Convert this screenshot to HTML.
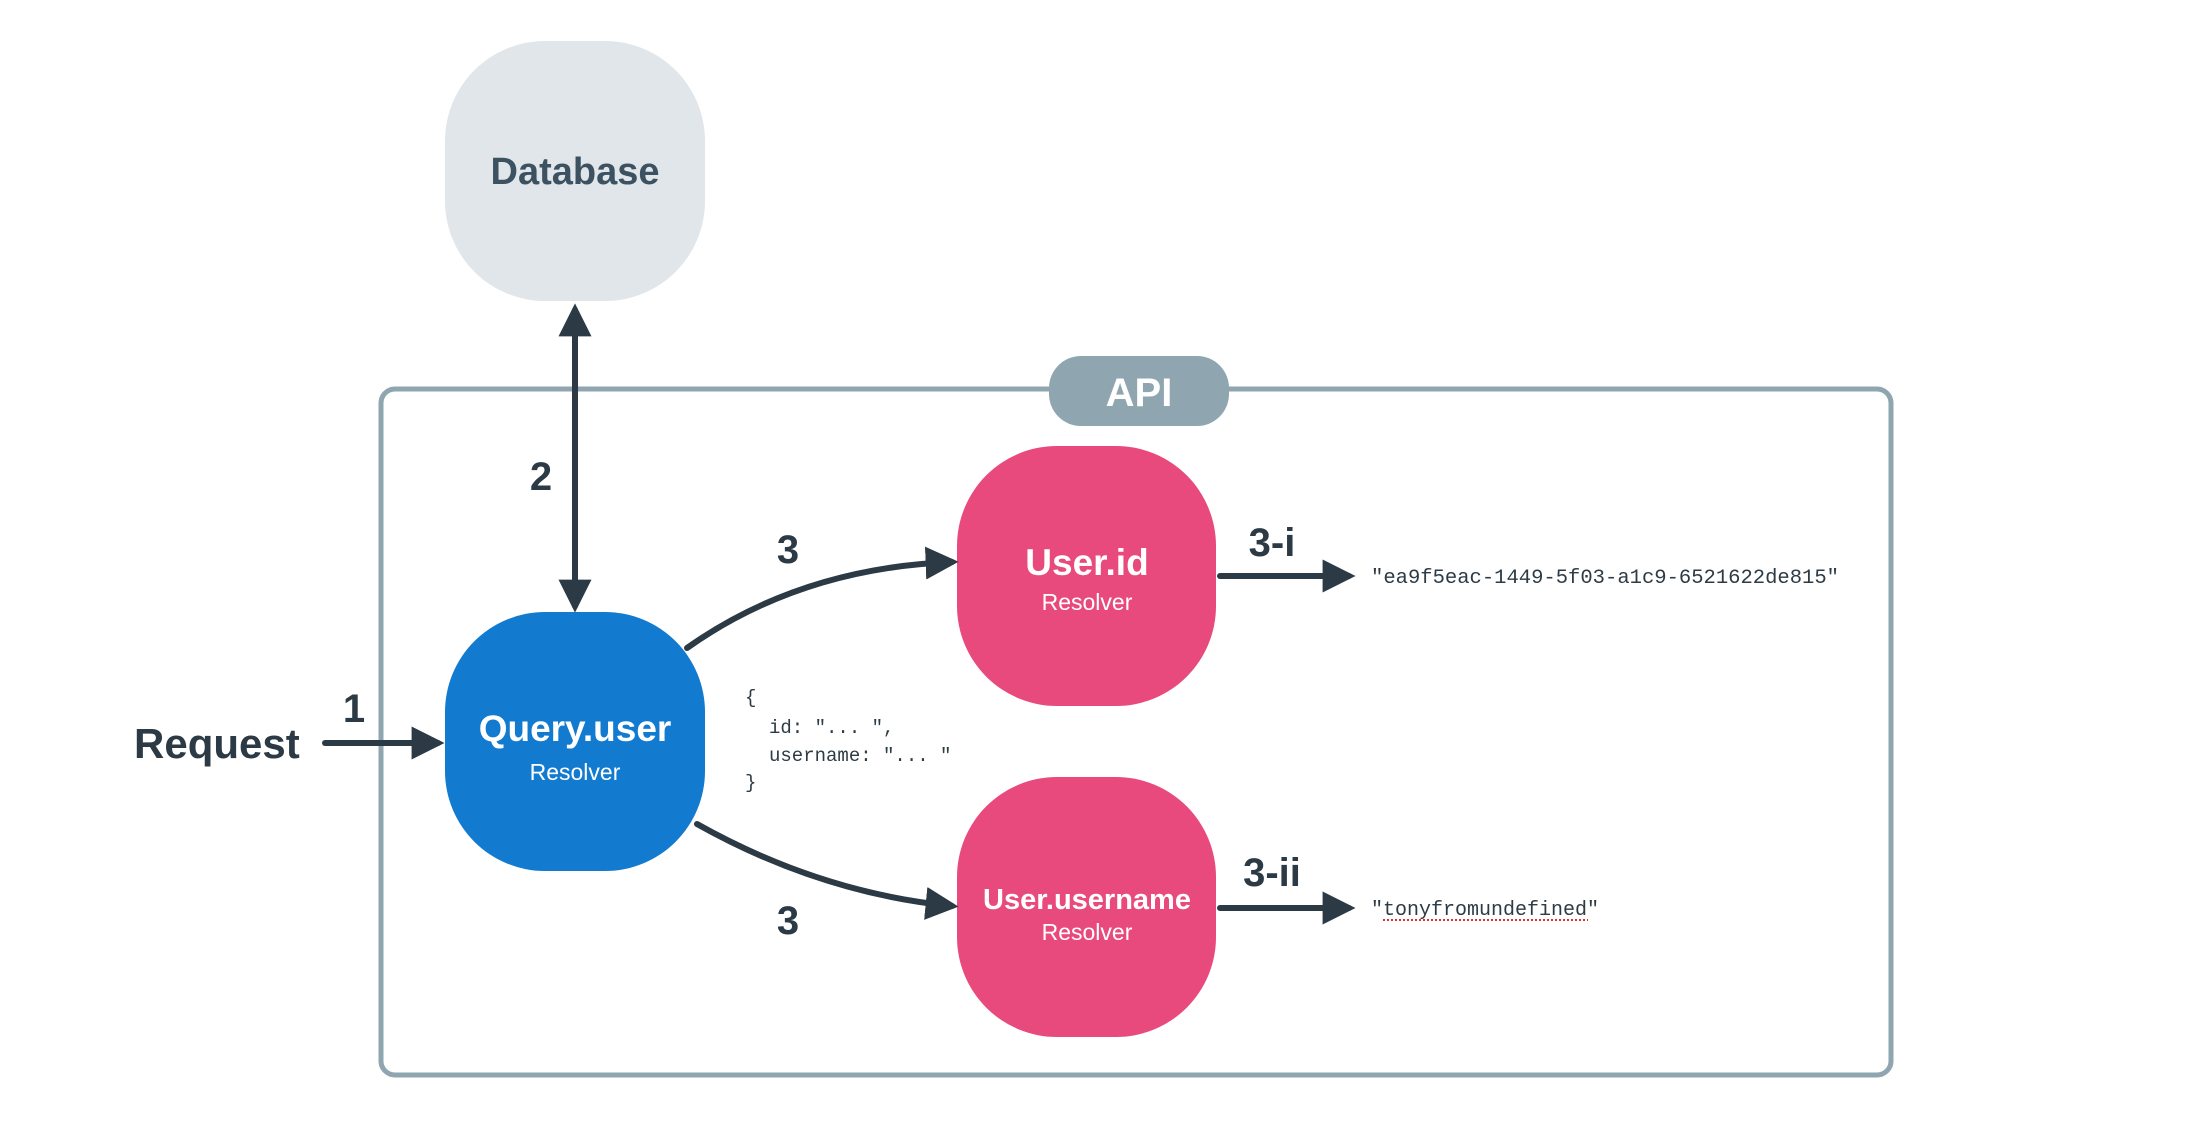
<!DOCTYPE html>
<html><head><meta charset="utf-8"><style>
html,body{margin:0;padding:0;background:#fff;}
svg{display:block;}
text{font-family:"Liberation Sans",sans-serif;}
text.mono,.mono text{font-family:"Liberation Mono",monospace;}
</style></head><body>
<svg width="2190" height="1144" viewBox="0 0 2190 1144" xmlns="http://www.w3.org/2000/svg">
<defs>
<marker id="ah" viewBox="0 0 10 10" refX="8" refY="5" markerWidth="5.5" markerHeight="5.5" orient="auto-start-reverse" markerUnits="strokeWidth">
<path d="M0,0 L10,5 L0,10 Z" fill="#2b3a44"/>
</marker>
</defs>
<rect x="381" y="389" width="1510" height="686" rx="14" fill="none" stroke="#8fa5b0" stroke-width="5"/>
<rect x="1049" y="356" width="180" height="70" rx="32" fill="#8fa5b0"/>
<text x="1139" y="406" text-anchor="middle" font-size="40" font-weight="bold" fill="#fff">API</text>

<rect x="445" y="41" width="260" height="260" rx="100" fill="#e1e6ea"/>
<text x="575" y="184" text-anchor="middle" font-size="38" font-weight="bold" fill="#3d5261">Database</text>

<rect x="445" y="612" width="260" height="259" rx="100" fill="#127bd0"/>
<text x="575" y="741" text-anchor="middle" font-size="37" font-weight="bold" fill="#fff">Query.user</text>
<text x="575" y="780" text-anchor="middle" font-size="23" fill="#fff">Resolver</text>

<rect x="957" y="446" width="259" height="260" rx="100" fill="#e84a7e"/>
<text x="1087" y="575" text-anchor="middle" font-size="37" font-weight="bold" fill="#fff">User.id</text>
<text x="1087" y="610" text-anchor="middle" font-size="23" fill="#fff">Resolver</text>

<rect x="957" y="777" width="259" height="260" rx="100" fill="#e84a7e"/>
<text x="1087" y="909" text-anchor="middle" font-size="29" font-weight="bold" fill="#fff">User.username</text>
<text x="1087" y="940" text-anchor="middle" font-size="23" fill="#fff">Resolver</text>

<text x="134" y="758" font-size="42" font-weight="bold" fill="#2b3a44">Request</text>

<g stroke="#2b3a44" stroke-width="6" fill="none" stroke-linecap="round">
<line x1="325" y1="743" x2="438" y2="743" marker-end="url(#ah)"/>
<line x1="575" y1="310" x2="575" y2="606" marker-start="url(#ah)" marker-end="url(#ah)"/>
<path d="M687,648 Q800,568 952,562" marker-end="url(#ah)"/>
<path d="M697,824 Q820,893 952,906" marker-end="url(#ah)"/>
<line x1="1220" y1="576" x2="1349" y2="576" marker-end="url(#ah)"/>
<line x1="1220" y1="908" x2="1349" y2="908" marker-end="url(#ah)"/>
</g>

<g font-size="40" font-weight="bold" fill="#2b3a44" text-anchor="middle">
<text x="354" y="722">1</text>
<text x="541" y="490">2</text>
<text x="788" y="563">3</text>
<text x="788" y="934">3</text>
<text x="1272" y="556">3-i</text>
<text x="1272" y="886">3-ii</text>
</g>

<g class="mono" font-size="19" fill="#2d3b45">
<text x="745" y="703">{</text>
<text x="769" y="733">id: "... ",</text>
<text x="769" y="761">username: "... "</text>
<text x="745" y="788">}</text>
</g>
<g class="mono" font-size="20" fill="#2d3b45">
<text x="1371" y="583" textLength="468" lengthAdjust="spacingAndGlyphs">"ea9f5eac-1449-5f03-a1c9-6521622de815"</text>
<text x="1371" y="915">"tonyfromundefined"</text>
</g>
<line x1="1383" y1="920" x2="1588" y2="920" stroke="#e03030" stroke-width="2" stroke-dasharray="2,2"/>
</svg>
</body></html>
